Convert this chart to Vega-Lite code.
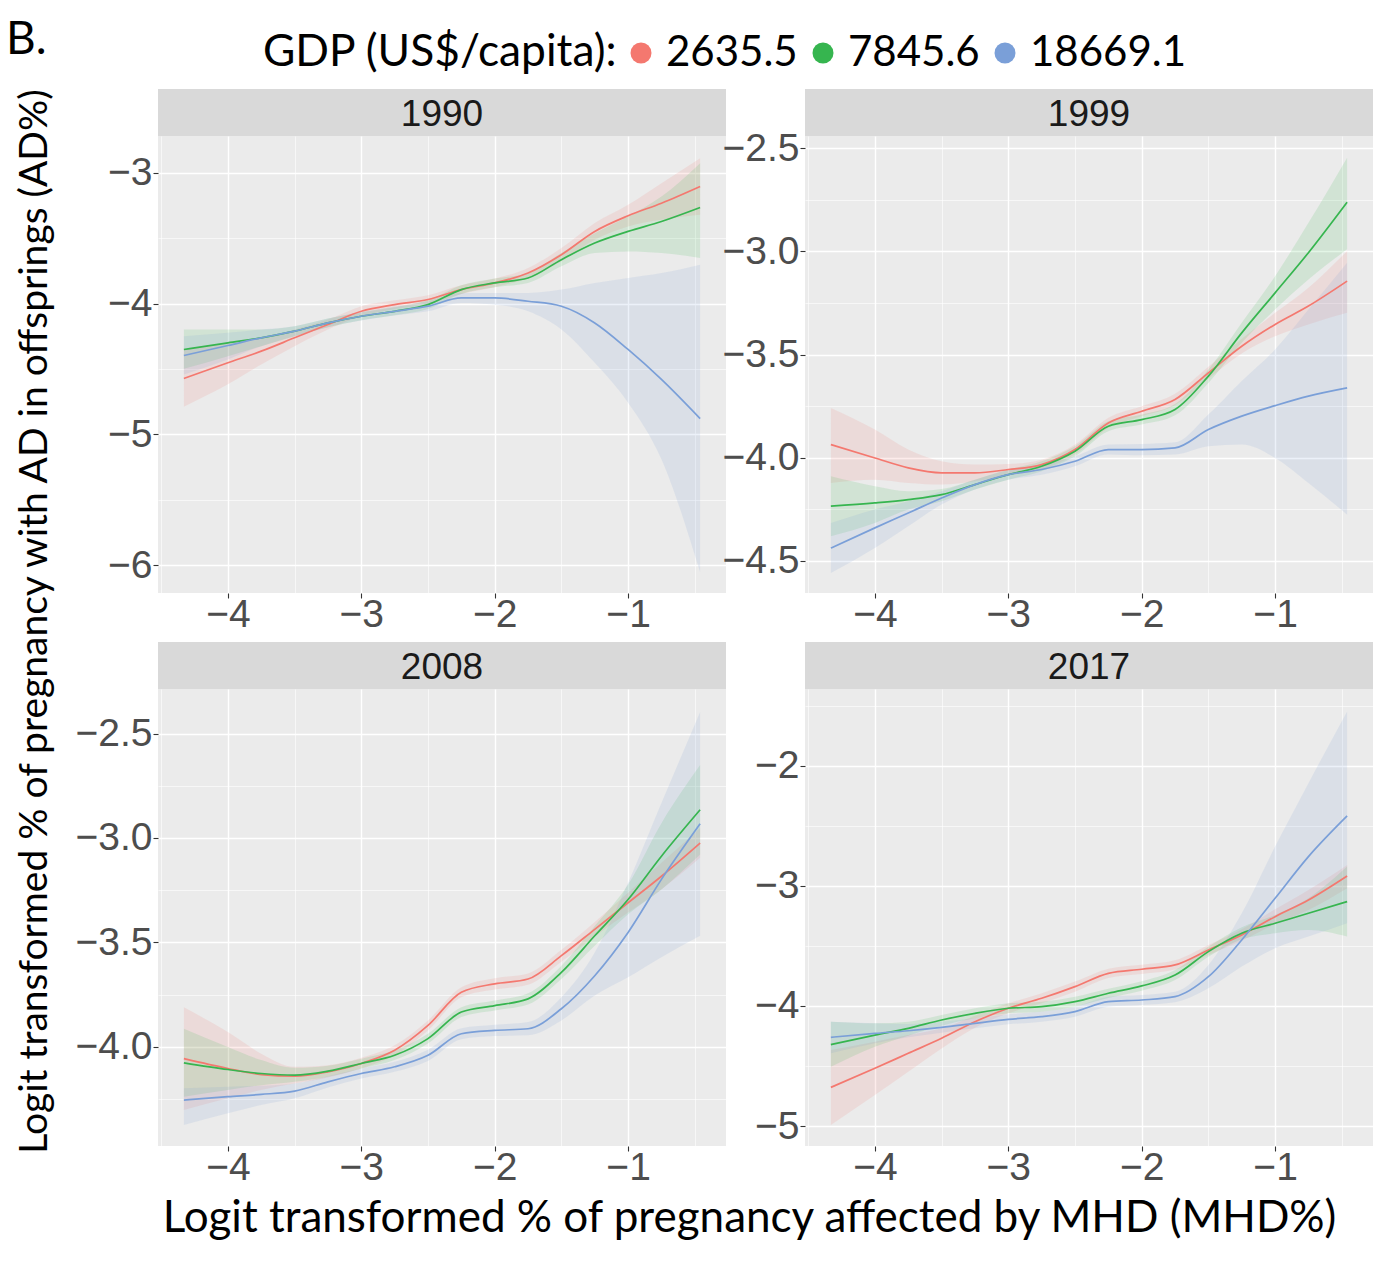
{
"$schema": "https://vega.github.io/schema/vega-lite/v6.json",
"padding": {"left": 6, "top": 17, "right": 5, "bottom": 5},
"title": {"text": "B.", "anchor": "start", "frame": "group", "font": "Lato", "fontSize": 46, "fontWeight": "normal", "color": "#000000", "dx": -152, "dy": 32, "offset": 0},
"datasets": {
"d1990": [
{"g":"2635.5","x":-4.33,"y":-4.573,"lo":-4.789,"hi":-4.351},{"g":"2635.5","x":-4,"y":-4.453,"lo":-4.618,"hi":-4.300},{"g":"2635.5","x":-3.75,"y":-4.364,"lo":-4.466,"hi":-4.270},{"g":"2635.5","x":-3.5,"y":-4.262,"lo":-4.326,"hi":-4.198},{"g":"2635.5","x":-3.25,"y":-4.160,"lo":-4.198,"hi":-4.122},{"g":"2635.5","x":-3,"y":-4.059,"lo":-4.097,"hi":-4.020},{"g":"2635.5","x":-2.75,"y":-4.008,"lo":-4.041,"hi":-3.975},{"g":"2635.5","x":-2.5,"y":-3.969,"lo":-4.003,"hi":-3.936},{"g":"2635.5","x":-2.25,"y":-3.893,"lo":-3.926,"hi":-3.860},{"g":"2635.5","x":-2,"y":-3.842,"lo":-3.875,"hi":-3.809},{"g":"2635.5","x":-1.75,"y":-3.766,"lo":-3.804,"hi":-3.728},{"g":"2635.5","x":-1.5,"y":-3.626,"lo":-3.677,"hi":-3.575},{"g":"2635.5","x":-1.25,"y":-3.448,"lo":-3.511,"hi":-3.384},{"g":"2635.5","x":-1,"y":-3.328,"lo":-3.410,"hi":-3.244},{"g":"2635.5","x":-0.75,"y":-3.232,"lo":-3.359,"hi":-3.079},{"g":"2635.5","x":-0.46,"y":-3.104,"lo":-3.321,"hi":-2.888},
{"g":"7845.6","x":-4.33,"y":-4.351,"lo":-4.499,"hi":-4.198},{"g":"7845.6","x":-4,"y":-4.300,"lo":-4.402,"hi":-4.198},{"g":"7845.6","x":-3.75,"y":-4.262,"lo":-4.326,"hi":-4.198},{"g":"7845.6","x":-3.5,"y":-4.211,"lo":-4.249,"hi":-4.173},{"g":"7845.6","x":-3.25,"y":-4.148,"lo":-4.181,"hi":-4.115},{"g":"7845.6","x":-3,"y":-4.097,"lo":-4.127,"hi":-4.066},{"g":"7845.6","x":-2.75,"y":-4.059,"lo":-4.089,"hi":-4.028},{"g":"7845.6","x":-2.5,"y":-4.008,"lo":-4.041,"hi":-3.975},{"g":"7845.6","x":-2.25,"y":-3.893,"lo":-3.926,"hi":-3.860},{"g":"7845.6","x":-2,"y":-3.842,"lo":-3.875,"hi":-3.809},{"g":"7845.6","x":-1.75,"y":-3.804,"lo":-3.842,"hi":-3.766},{"g":"7845.6","x":-1.5,"y":-3.664,"lo":-3.715,"hi":-3.613},{"g":"7845.6","x":-1.25,"y":-3.537,"lo":-3.613,"hi":-3.461},{"g":"7845.6","x":-1,"y":-3.448,"lo":-3.601,"hi":-3.333},{"g":"7845.6","x":-0.75,"y":-3.372,"lo":-3.613,"hi":-3.181},{"g":"7845.6","x":-0.46,"y":-3.265,"lo":-3.651,"hi":-2.926},
{"g":"18669.1","x":-4.33,"y":-4.397,"lo":-4.542,"hi":-4.249},{"g":"18669.1","x":-4,"y":-4.321,"lo":-4.427,"hi":-4.224},{"g":"18669.1","x":-3.75,"y":-4.262,"lo":-4.326,"hi":-4.198},{"g":"18669.1","x":-3.5,"y":-4.211,"lo":-4.249,"hi":-4.173},{"g":"18669.1","x":-3.25,"y":-4.148,"lo":-4.181,"hi":-4.115},{"g":"18669.1","x":-3,"y":-4.097,"lo":-4.130,"hi":-4.064},{"g":"18669.1","x":-2.75,"y":-4.059,"lo":-4.092,"hi":-4.025},{"g":"18669.1","x":-2.5,"y":-4.020,"lo":-4.059,"hi":-3.982},{"g":"18669.1","x":-2.25,"y":-3.957,"lo":-3.995,"hi":-3.919},{"g":"18669.1","x":-2,"y":-3.957,"lo":-4.008,"hi":-3.919},{"g":"18669.1","x":-1.75,"y":-3.982,"lo":-4.059,"hi":-3.919},{"g":"18669.1","x":-1.5,"y":-4.020,"lo":-4.198,"hi":-3.893},{"g":"18669.1","x":-1.25,"y":-4.148,"lo":-4.453,"hi":-3.842},{"g":"18669.1","x":-1,"y":-4.351,"lo":-4.758,"hi":-3.804},{"g":"18669.1","x":-0.75,"y":-4.580,"lo":-5.191,"hi":-3.766},{"g":"18669.1","x":-0.46,"y":-4.880,"lo":-6.056,"hi":-3.702}
],
"d1999": [
{"g":"2635.5","x":-4.33,"y":-3.937,"lo":-4.123,"hi":-3.759},{"g":"2635.5","x":-4,"y":-4.002,"lo":-4.107,"hi":-3.864},{"g":"2635.5","x":-3.75,"y":-4.050,"lo":-4.123,"hi":-3.961},{"g":"2635.5","x":-3.5,"y":-4.074,"lo":-4.131,"hi":-4.018},{"g":"2635.5","x":-3.25,"y":-4.074,"lo":-4.115,"hi":-4.034},{"g":"2635.5","x":-3,"y":-4.058,"lo":-4.086,"hi":-4.031},{"g":"2635.5","x":-2.75,"y":-4.034,"lo":-4.058,"hi":-4.010},{"g":"2635.5","x":-2.5,"y":-3.961,"lo":-3.985,"hi":-3.937},{"g":"2635.5","x":-2.25,"y":-3.832,"lo":-3.856,"hi":-3.807},{"g":"2635.5","x":-2,"y":-3.775,"lo":-3.799,"hi":-3.751},{"g":"2635.5","x":-1.75,"y":-3.718,"lo":-3.746,"hi":-3.691},{"g":"2635.5","x":-1.5,"y":-3.589,"lo":-3.618,"hi":-3.560},{"g":"2635.5","x":-1.25,"y":-3.460,"lo":-3.495,"hi":-3.424},{"g":"2635.5","x":-1,"y":-3.354,"lo":-3.411,"hi":-3.298},{"g":"2635.5","x":-0.75,"y":-3.265,"lo":-3.354,"hi":-3.176},{"g":"2635.5","x":-0.46,"y":-3.144,"lo":-3.298,"hi":-2.998},
{"g":"7845.6","x":-4.33,"y":-4.236,"lo":-4.382,"hi":-4.091},{"g":"7845.6","x":-4,"y":-4.220,"lo":-4.317,"hi":-4.139},{"g":"7845.6","x":-3.75,"y":-4.204,"lo":-4.252,"hi":-4.163},{"g":"7845.6","x":-3.5,"y":-4.180,"lo":-4.212,"hi":-4.152},{"g":"7845.6","x":-3.25,"y":-4.131,"lo":-4.155,"hi":-4.107},{"g":"7845.6","x":-3,"y":-4.083,"lo":-4.107,"hi":-4.058},{"g":"7845.6","x":-2.75,"y":-4.042,"lo":-4.066,"hi":-4.018},{"g":"7845.6","x":-2.5,"y":-3.969,"lo":-3.994,"hi":-3.945},{"g":"7845.6","x":-2.25,"y":-3.848,"lo":-3.872,"hi":-3.824},{"g":"7845.6","x":-2,"y":-3.816,"lo":-3.840,"hi":-3.791},{"g":"7845.6","x":-1.75,"y":-3.767,"lo":-3.795,"hi":-3.740},{"g":"7845.6","x":-1.5,"y":-3.605,"lo":-3.638,"hi":-3.573},{"g":"7845.6","x":-1.25,"y":-3.395,"lo":-3.443,"hi":-3.346},{"g":"7845.6","x":-1,"y":-3.201,"lo":-3.282,"hi":-3.120},{"g":"7845.6","x":-0.75,"y":-3.006,"lo":-3.136,"hi":-2.861},{"g":"7845.6","x":-0.46,"y":-2.761,"lo":-2.990,"hi":-2.545},
{"g":"18669.1","x":-4.33,"y":-4.439,"lo":-4.560,"hi":-4.317},{"g":"18669.1","x":-4,"y":-4.341,"lo":-4.439,"hi":-4.252},{"g":"18669.1","x":-3.75,"y":-4.269,"lo":-4.333,"hi":-4.212},{"g":"18669.1","x":-3.5,"y":-4.196,"lo":-4.228,"hi":-4.163},{"g":"18669.1","x":-3.25,"y":-4.131,"lo":-4.155,"hi":-4.107},{"g":"18669.1","x":-3,"y":-4.083,"lo":-4.107,"hi":-4.061},{"g":"18669.1","x":-2.75,"y":-4.058,"lo":-4.083,"hi":-4.034},{"g":"18669.1","x":-2.5,"y":-4.018,"lo":-4.042,"hi":-3.994},{"g":"18669.1","x":-2.25,"y":-3.961,"lo":-3.985,"hi":-3.937},{"g":"18669.1","x":-2,"y":-3.961,"lo":-3.989,"hi":-3.934},{"g":"18669.1","x":-1.75,"y":-3.953,"lo":-3.985,"hi":-3.926},{"g":"18669.1","x":-1.5,"y":-3.864,"lo":-3.945,"hi":-3.791},{"g":"18669.1","x":-1.25,"y":-3.799,"lo":-3.937,"hi":-3.629},{"g":"18669.1","x":-1,"y":-3.748,"lo":-4.002,"hi":-3.476},{"g":"18669.1","x":-0.75,"y":-3.702,"lo":-4.123,"hi":-3.282},{"g":"18669.1","x":-0.46,"y":-3.662,"lo":-4.277,"hi":-3.055}
],
"d2008": [
{"g":"2635.5","x":-4.33,"y":-4.056,"lo":-4.302,"hi":-3.810},{"g":"2635.5","x":-4,"y":-4.103,"lo":-4.246,"hi":-3.929},{"g":"2635.5","x":-3.75,"y":-4.132,"lo":-4.206,"hi":-4.032},{"g":"2635.5","x":-3.5,"y":-4.140,"lo":-4.175,"hi":-4.095},{"g":"2635.5","x":-3.25,"y":-4.119,"lo":-4.146,"hi":-4.087},{"g":"2635.5","x":-3,"y":-4.079,"lo":-4.103,"hi":-4.052},{"g":"2635.5","x":-2.75,"y":-4.016,"lo":-4.040,"hi":-3.992},{"g":"2635.5","x":-2.5,"y":-3.897,"lo":-3.921,"hi":-3.873},{"g":"2635.5","x":-2.25,"y":-3.738,"lo":-3.762,"hi":-3.714},{"g":"2635.5","x":-2,"y":-3.698,"lo":-3.725,"hi":-3.671},{"g":"2635.5","x":-1.75,"y":-3.675,"lo":-3.702,"hi":-3.648},{"g":"2635.5","x":-1.5,"y":-3.563,"lo":-3.592,"hi":-3.535},{"g":"2635.5","x":-1.25,"y":-3.437,"lo":-3.471,"hi":-3.402},{"g":"2635.5","x":-1,"y":-3.310,"lo":-3.357,"hi":-3.262},{"g":"2635.5","x":-0.75,"y":-3.183,"lo":-3.246,"hi":-3.119},{"g":"2635.5","x":-0.46,"y":-3.024,"lo":-3.095,"hi":-2.952},
{"g":"7845.6","x":-4.33,"y":-4.076,"lo":-4.238,"hi":-3.913},{"g":"7845.6","x":-4,"y":-4.108,"lo":-4.206,"hi":-4.000},{"g":"7845.6","x":-3.75,"y":-4.127,"lo":-4.183,"hi":-4.063},{"g":"7845.6","x":-3.5,"y":-4.135,"lo":-4.167,"hi":-4.100},{"g":"7845.6","x":-3.25,"y":-4.116,"lo":-4.143,"hi":-4.090},{"g":"7845.6","x":-3,"y":-4.079,"lo":-4.103,"hi":-4.056},{"g":"7845.6","x":-2.75,"y":-4.040,"lo":-4.063,"hi":-4.016},{"g":"7845.6","x":-2.5,"y":-3.960,"lo":-3.984,"hi":-3.937},{"g":"7845.6","x":-2.25,"y":-3.833,"lo":-3.857,"hi":-3.810},{"g":"7845.6","x":-2,"y":-3.802,"lo":-3.825,"hi":-3.778},{"g":"7845.6","x":-1.75,"y":-3.770,"lo":-3.797,"hi":-3.743},{"g":"7845.6","x":-1.5,"y":-3.643,"lo":-3.675,"hi":-3.611},{"g":"7845.6","x":-1.25,"y":-3.468,"lo":-3.516,"hi":-3.421},{"g":"7845.6","x":-1,"y":-3.294,"lo":-3.365,"hi":-3.222},{"g":"7845.6","x":-0.75,"y":-3.087,"lo":-3.246,"hi":-2.929},{"g":"7845.6","x":-0.46,"y":-2.865,"lo":-3.079,"hi":-2.651},
{"g":"18669.1","x":-4.33,"y":-4.254,"lo":-4.373,"hi":-4.198},{"g":"18669.1","x":-4,"y":-4.238,"lo":-4.317,"hi":-4.190},{"g":"18669.1","x":-3.75,"y":-4.227,"lo":-4.278,"hi":-4.186},{"g":"18669.1","x":-3.5,"y":-4.211,"lo":-4.246,"hi":-4.175},{"g":"18669.1","x":-3.25,"y":-4.167,"lo":-4.194,"hi":-4.140},{"g":"18669.1","x":-3,"y":-4.127,"lo":-4.151,"hi":-4.103},{"g":"18669.1","x":-2.75,"y":-4.095,"lo":-4.119,"hi":-4.071},{"g":"18669.1","x":-2.5,"y":-4.040,"lo":-4.067,"hi":-4.013},{"g":"18669.1","x":-2.25,"y":-3.937,"lo":-3.963,"hi":-3.910},{"g":"18669.1","x":-2,"y":-3.921,"lo":-3.948,"hi":-3.894},{"g":"18669.1","x":-1.75,"y":-3.913,"lo":-3.944,"hi":-3.881},{"g":"18669.1","x":-1.5,"y":-3.817,"lo":-3.873,"hi":-3.762},{"g":"18669.1","x":-1.25,"y":-3.659,"lo":-3.754,"hi":-3.548},{"g":"18669.1","x":-1,"y":-3.452,"lo":-3.667,"hi":-3.214},{"g":"18669.1","x":-0.75,"y":-3.198,"lo":-3.571,"hi":-2.833},{"g":"18669.1","x":-0.46,"y":-2.932,"lo":-3.468,"hi":-2.397}
],
"d2017": [
{"g":"2635.5","x":-4.33,"y":-4.678,"lo":-4.992,"hi":-4.367},{"g":"2635.5","x":-4,"y":-4.519,"lo":-4.742,"hi":-4.297},{"g":"2635.5","x":-3.75,"y":-4.394,"lo":-4.547,"hi":-4.242},{"g":"2635.5","x":-3.5,"y":-4.269,"lo":-4.353,"hi":-4.186},{"g":"2635.5","x":-3.25,"y":-4.131,"lo":-4.181,"hi":-4.081},{"g":"2635.5","x":-3,"y":-4.019,"lo":-4.061,"hi":-3.978},{"g":"2635.5","x":-2.75,"y":-3.936,"lo":-3.978,"hi":-3.894},{"g":"2635.5","x":-2.5,"y":-3.839,"lo":-3.881,"hi":-3.797},{"g":"2635.5","x":-2.25,"y":-3.728,"lo":-3.767,"hi":-3.689},{"g":"2635.5","x":-2,"y":-3.694,"lo":-3.733,"hi":-3.656},{"g":"2635.5","x":-1.75,"y":-3.658,"lo":-3.697,"hi":-3.619},{"g":"2635.5","x":-1.5,"y":-3.533,"lo":-3.575,"hi":-3.492},{"g":"2635.5","x":-1.25,"y":-3.408,"lo":-3.456,"hi":-3.361},{"g":"2635.5","x":-1,"y":-3.256,"lo":-3.317,"hi":-3.194},{"g":"2635.5","x":-0.75,"y":-3.117,"lo":-3.200,"hi":-3.033},{"g":"2635.5","x":-0.46,"y":-2.917,"lo":-3.019,"hi":-2.825},
{"g":"7845.6","x":-4.33,"y":-4.322,"lo":-4.506,"hi":-4.131},{"g":"7845.6","x":-4,"y":-4.242,"lo":-4.339,"hi":-4.144},{"g":"7845.6","x":-3.75,"y":-4.186,"lo":-4.247,"hi":-4.131},{"g":"7845.6","x":-3.5,"y":-4.117,"lo":-4.164,"hi":-4.075},{"g":"7845.6","x":-3.25,"y":-4.061,"lo":-4.103,"hi":-4.019},{"g":"7845.6","x":-3,"y":-4.019,"lo":-4.061,"hi":-3.978},{"g":"7845.6","x":-2.75,"y":-4.006,"lo":-4.047,"hi":-3.964},{"g":"7845.6","x":-2.5,"y":-3.964,"lo":-4.006,"hi":-3.922},{"g":"7845.6","x":-2.25,"y":-3.894,"lo":-3.933,"hi":-3.856},{"g":"7845.6","x":-2,"y":-3.833,"lo":-3.872,"hi":-3.794},{"g":"7845.6","x":-1.75,"y":-3.742,"lo":-3.783,"hi":-3.700},{"g":"7845.6","x":-1.5,"y":-3.547,"lo":-3.589,"hi":-3.506},{"g":"7845.6","x":-1.25,"y":-3.394,"lo":-3.444,"hi":-3.344},{"g":"7845.6","x":-1,"y":-3.311,"lo":-3.394,"hi":-3.242},{"g":"7845.6","x":-0.75,"y":-3.228,"lo":-3.367,"hi":-3.103},{"g":"7845.6","x":-0.46,"y":-3.131,"lo":-3.422,"hi":-2.839},
{"g":"18669.1","x":-4.33,"y":-4.261,"lo":-4.394,"hi":-4.131},{"g":"18669.1","x":-4,"y":-4.228,"lo":-4.311,"hi":-4.144},{"g":"18669.1","x":-3.75,"y":-4.206,"lo":-4.261,"hi":-4.150},{"g":"18669.1","x":-3.5,"y":-4.178,"lo":-4.222,"hi":-4.131},{"g":"18669.1","x":-3.25,"y":-4.144,"lo":-4.186,"hi":-4.103},{"g":"18669.1","x":-3,"y":-4.111,"lo":-4.153,"hi":-4.069},{"g":"18669.1","x":-2.75,"y":-4.089,"lo":-4.131,"hi":-4.047},{"g":"18669.1","x":-2.5,"y":-4.047,"lo":-4.089,"hi":-4.006},{"g":"18669.1","x":-2.25,"y":-3.964,"lo":-4.006,"hi":-3.922},{"g":"18669.1","x":-2,"y":-3.950,"lo":-3.992,"hi":-3.908},{"g":"18669.1","x":-1.75,"y":-3.922,"lo":-3.969,"hi":-3.881},{"g":"18669.1","x":-1.5,"y":-3.756,"lo":-3.853,"hi":-3.658},{"g":"18669.1","x":-1.25,"y":-3.450,"lo":-3.672,"hi":-3.228},{"g":"18669.1","x":-1,"y":-3.103,"lo":-3.519,"hi":-2.672},{"g":"18669.1","x":-0.75,"y":-2.756,"lo":-3.422,"hi":-2.144},{"g":"18669.1","x":-0.46,"y":-2.417,"lo":-3.311,"hi":-1.547}
]
},
"columns": 2,
"align": "each",
"bounds": "flush",
"spacing": {"row": 0, "column": 79},
"concat": [
  {"data": {"values": [{"t": "1990"}]}, "width": 568, "height": 47, "view": {"fill": "#D9D9D9", "stroke": null},
   "mark": {"type": "text", "font": "Liberation Sans", "fontSize": 37, "color": "#1A1A1A", "dy": 2}, "encoding": {"text": {"field": "t"}}},
  {"data": {"values": [{"t": "1999"}]}, "width": 568, "height": 47, "view": {"fill": "#D9D9D9", "stroke": null},
   "mark": {"type": "text", "font": "Liberation Sans", "fontSize": 37, "color": "#1A1A1A", "dy": 2}, "encoding": {"text": {"field": "t"}}},
  {"data": {"name": "d1990"}, "width": 568, "height": 457, "view": {"fill": "#EBEBEB", "stroke": null},
   "layer": [
    {"mark": {"type": "area", "interpolate": "monotone", "opacity": 0.14},
     "encoding": {
      "x": {"field": "x", "type": "quantitative", "scale": {"domain": [-4.524, -0.266], "nice": false, "zero": false},
            "axis": {"title": null, "values": [-4.5,-4,-3.5,-3,-2.5,-2,-1.5,-1,-0.5], "format": ".0f", "labelExpr": "datum.value % 1 == 0 ? datum.label : ''", "gridWidth": {"condition": {"test": "datum.value % 1 != 0", "value": 0.6}, "value": 1.4}, "tickOpacity": {"condition": {"test": "datum.value % 1 != 0", "value": 0}, "value": 1}}},
      "y": {"field": "lo", "type": "quantitative", "scale": {"domain": [-6.214, -2.718], "nice": false, "zero": false},
            "axis": {"title": null, "values": [-6,-5.5,-5,-4.5,-4,-3.5,-3], "format": ".0f", "labelExpr": "datum.value % 1 == 0 ? datum.label : ''", "gridWidth": {"condition": {"test": "datum.value % 1 != 0", "value": 0.6}, "value": 1.4}, "tickOpacity": {"condition": {"test": "datum.value % 1 != 0", "value": 0}, "value": 1}}},
      "y2": {"field": "hi"},
      "color": {"field": "g", "type": "nominal", "scale": {"domain": ["2635.5","7845.6","18669.1"], "range": ["#F4786F","#36B54F","#7A9FD8"]},
        "legend": {"title": "GDP (US$/capita):", "orient": "none", "legendX": 105, "legendY": -57, "direction": "horizontal", "titleOrient": "left", "titleAnchor": "middle", "titleBaseline": "middle", "titleLimit": 700, "labelLimit": 400, "symbolType": "circle", "symbolSize": 441, "symbolStrokeWidth": 0, "symbolOpacity": 1, "labelFont": "Lato", "labelFontSize": 42, "labelColor": "#000000", "titleFont": "Lato", "titleFontSize": 44.3, "titleFontWeight": "normal", "titleColor": "#000000", "labelOffset": 4, "columnPadding": 4, "titlePadding": 2}}}},
    {"mark": {"type": "line", "interpolate": "monotone", "strokeWidth": 1.7},
     "encoding": {
      "x": {"field": "x", "type": "quantitative", "scale": {"domain": [-4.524, -0.266], "nice": false, "zero": false}},
      "y": {"field": "y", "type": "quantitative", "scale": {"domain": [-6.214, -2.718], "nice": false, "zero": false}},
      "color": {"field": "g", "type": "nominal", "scale": {"domain": ["2635.5","7845.6","18669.1"], "range": ["#F4786F","#36B54F","#7A9FD8"]}, "legend": null}}}
   ]},
  {"data": {"name": "d1999"}, "width": 568, "height": 457, "view": {"fill": "#EBEBEB", "stroke": null},
   "layer": [
    {"mark": {"type": "area", "interpolate": "monotone", "opacity": 0.14},
     "encoding": {
      "x": {"field": "x", "type": "quantitative", "scale": {"domain": [-4.524, -0.266], "nice": false, "zero": false},
            "axis": {"title": null, "values": [-4.5,-4,-3.5,-3,-2.5,-2,-1.5,-1,-0.5], "format": ".0f", "labelExpr": "datum.value % 1 == 0 ? datum.label : ''", "gridWidth": {"condition": {"test": "datum.value % 1 != 0", "value": 0.6}, "value": 1.4}, "tickOpacity": {"condition": {"test": "datum.value % 1 != 0", "value": 0}, "value": 1}}},
      "y": {"field": "lo", "type": "quantitative", "scale": {"domain": [-4.657, -2.44], "nice": false, "zero": false},
            "axis": {"title": null, "values": [-4.5,-4.25,-4,-3.75,-3.5,-3.25,-3,-2.75,-2.5], "format": ".1f", "labelExpr": "datum.value % 0.5 == 0 ? datum.label : ''", "gridWidth": {"condition": {"test": "datum.value % 0.5 != 0", "value": 0.6}, "value": 1.4}, "tickOpacity": {"condition": {"test": "datum.value % 0.5 != 0", "value": 0}, "value": 1}}},
      "y2": {"field": "hi"},
      "color": {"field": "g", "type": "nominal", "scale": {"domain": ["2635.5","7845.6","18669.1"], "range": ["#F4786F","#36B54F","#7A9FD8"]}, "legend": null}}},
    {"mark": {"type": "line", "interpolate": "monotone", "strokeWidth": 1.7},
     "encoding": {
      "x": {"field": "x", "type": "quantitative", "scale": {"domain": [-4.524, -0.266], "nice": false, "zero": false}},
      "y": {"field": "y", "type": "quantitative", "scale": {"domain": [-4.657, -2.44], "nice": false, "zero": false}},
      "color": {"field": "g", "type": "nominal", "scale": {"domain": ["2635.5","7845.6","18669.1"], "range": ["#F4786F","#36B54F","#7A9FD8"]}, "legend": null}}}
   ]},
  {"data": {"values": [{"t": ""}]}, "width": 568, "height": 49, "mark": "text", "encoding": {"text": {"field": "t"}}},
  {"data": {"values": [{"t": ""}]}, "width": 568, "height": 49, "mark": "text", "encoding": {"text": {"field": "t"}}},
  {"data": {"values": [{"t": "2008"}]}, "width": 568, "height": 47, "view": {"fill": "#D9D9D9", "stroke": null},
   "mark": {"type": "text", "font": "Liberation Sans", "fontSize": 37, "color": "#1A1A1A", "dy": 2}, "encoding": {"text": {"field": "t"}}},
  {"data": {"values": [{"t": "2017"}]}, "width": 568, "height": 47, "view": {"fill": "#D9D9D9", "stroke": null},
   "mark": {"type": "text", "font": "Liberation Sans", "fontSize": 37, "color": "#1A1A1A", "dy": 2}, "encoding": {"text": {"field": "t"}}},
  {"data": {"name": "d2008"}, "width": 568, "height": 457, "view": {"fill": "#EBEBEB", "stroke": null},
   "layer": [
    {"mark": {"type": "area", "interpolate": "monotone", "opacity": 0.14},
     "encoding": {
      "x": {"field": "x", "type": "quantitative", "scale": {"domain": [-4.524, -0.266], "nice": false, "zero": false},
            "axis": {"title": "Logit transformed % of pregnancy affected by MHD (MHD%)", "titleFont": "Lato", "titleFontSize": 44, "titleFontWeight": "normal", "titleColor": "#000000", "titleX": 591, "titleY": 85, "titleBaseline": "alphabetic", "titleAlign": "center",
                     "values": [-4.5,-4,-3.5,-3,-2.5,-2,-1.5,-1,-0.5], "format": ".0f", "labelExpr": "datum.value % 1 == 0 ? datum.label : ''", "gridWidth": {"condition": {"test": "datum.value % 1 != 0", "value": 0.6}, "value": 1.4}, "tickOpacity": {"condition": {"test": "datum.value % 1 != 0", "value": 0}, "value": 1}}},
      "y": {"field": "lo", "type": "quantitative", "scale": {"domain": [-4.474, -2.287], "nice": false, "zero": false},
            "axis": {"title": "Logit transformed % of pregnancy with AD in offsprings (AD%)", "titleFont": "Lato", "titleFontSize": 39, "titleFontWeight": "normal", "titleColor": "#000000", "titleX": -112, "titleY": -68, "titleAngle": 270, "titleBaseline": "alphabetic", "titleAlign": "center",
                     "values": [-4.25,-4,-3.75,-3.5,-3.25,-3,-2.75,-2.5], "format": ".1f", "labelExpr": "datum.value % 0.5 == 0 ? datum.label : ''", "gridWidth": {"condition": {"test": "datum.value % 0.5 != 0", "value": 0.6}, "value": 1.4}, "tickOpacity": {"condition": {"test": "datum.value % 0.5 != 0", "value": 0}, "value": 1}}},
      "y2": {"field": "hi"},
      "color": {"field": "g", "type": "nominal", "scale": {"domain": ["2635.5","7845.6","18669.1"], "range": ["#F4786F","#36B54F","#7A9FD8"]}, "legend": null}}},
    {"mark": {"type": "line", "interpolate": "monotone", "strokeWidth": 1.7},
     "encoding": {
      "x": {"field": "x", "type": "quantitative", "scale": {"domain": [-4.524, -0.266], "nice": false, "zero": false}},
      "y": {"field": "y", "type": "quantitative", "scale": {"domain": [-4.474, -2.287], "nice": false, "zero": false}},
      "color": {"field": "g", "type": "nominal", "scale": {"domain": ["2635.5","7845.6","18669.1"], "range": ["#F4786F","#36B54F","#7A9FD8"]}, "legend": null}}}
   ]},
  {"data": {"name": "d2017"}, "width": 568, "height": 457, "view": {"fill": "#EBEBEB", "stroke": null},
   "layer": [
    {"mark": {"type": "area", "interpolate": "monotone", "opacity": 0.14},
     "encoding": {
      "x": {"field": "x", "type": "quantitative", "scale": {"domain": [-4.524, -0.266], "nice": false, "zero": false},
            "axis": {"title": null, "values": [-4.5,-4,-3.5,-3,-2.5,-2,-1.5,-1,-0.5], "format": ".0f", "labelExpr": "datum.value % 1 == 0 ? datum.label : ''", "gridWidth": {"condition": {"test": "datum.value % 1 != 0", "value": 0.6}, "value": 1.4}, "tickOpacity": {"condition": {"test": "datum.value % 1 != 0", "value": 0}, "value": 1}}},
      "y": {"field": "lo", "type": "quantitative", "scale": {"domain": [-5.166, -1.36], "nice": false, "zero": false},
            "axis": {"title": null, "values": [-5,-4.5,-4,-3.5,-3,-2.5,-2,-1.5], "format": ".0f", "labelExpr": "datum.value % 1 == 0 ? datum.label : ''", "gridWidth": {"condition": {"test": "datum.value % 1 != 0", "value": 0.6}, "value": 1.4}, "tickOpacity": {"condition": {"test": "datum.value % 1 != 0", "value": 0}, "value": 1}}},
      "y2": {"field": "hi"},
      "color": {"field": "g", "type": "nominal", "scale": {"domain": ["2635.5","7845.6","18669.1"], "range": ["#F4786F","#36B54F","#7A9FD8"]}, "legend": null}}},
    {"mark": {"type": "line", "interpolate": "monotone", "strokeWidth": 1.7},
     "encoding": {
      "x": {"field": "x", "type": "quantitative", "scale": {"domain": [-4.524, -0.266], "nice": false, "zero": false}},
      "y": {"field": "y", "type": "quantitative", "scale": {"domain": [-5.166, -1.36], "nice": false, "zero": false}},
      "color": {"field": "g", "type": "nominal", "scale": {"domain": ["2635.5","7845.6","18669.1"], "range": ["#F4786F","#36B54F","#7A9FD8"]}, "legend": null}}}
   ]}
],
"config": {
 "view": {"stroke": null},
 "axis": {"domain": false, "grid": true, "gridColor": "#FFFFFF", "labelFont": "Liberation Sans", "labelFontSize": 39, "labelColor": "#4D4D4D", "tickColor": "#333333", "tickSize": 5, "tickWidth": 1.1, "labelPadding": 1, "labelOverlap": false, "labelFlush": false},
 "axisX": {"labelPadding": -3}
}
}
